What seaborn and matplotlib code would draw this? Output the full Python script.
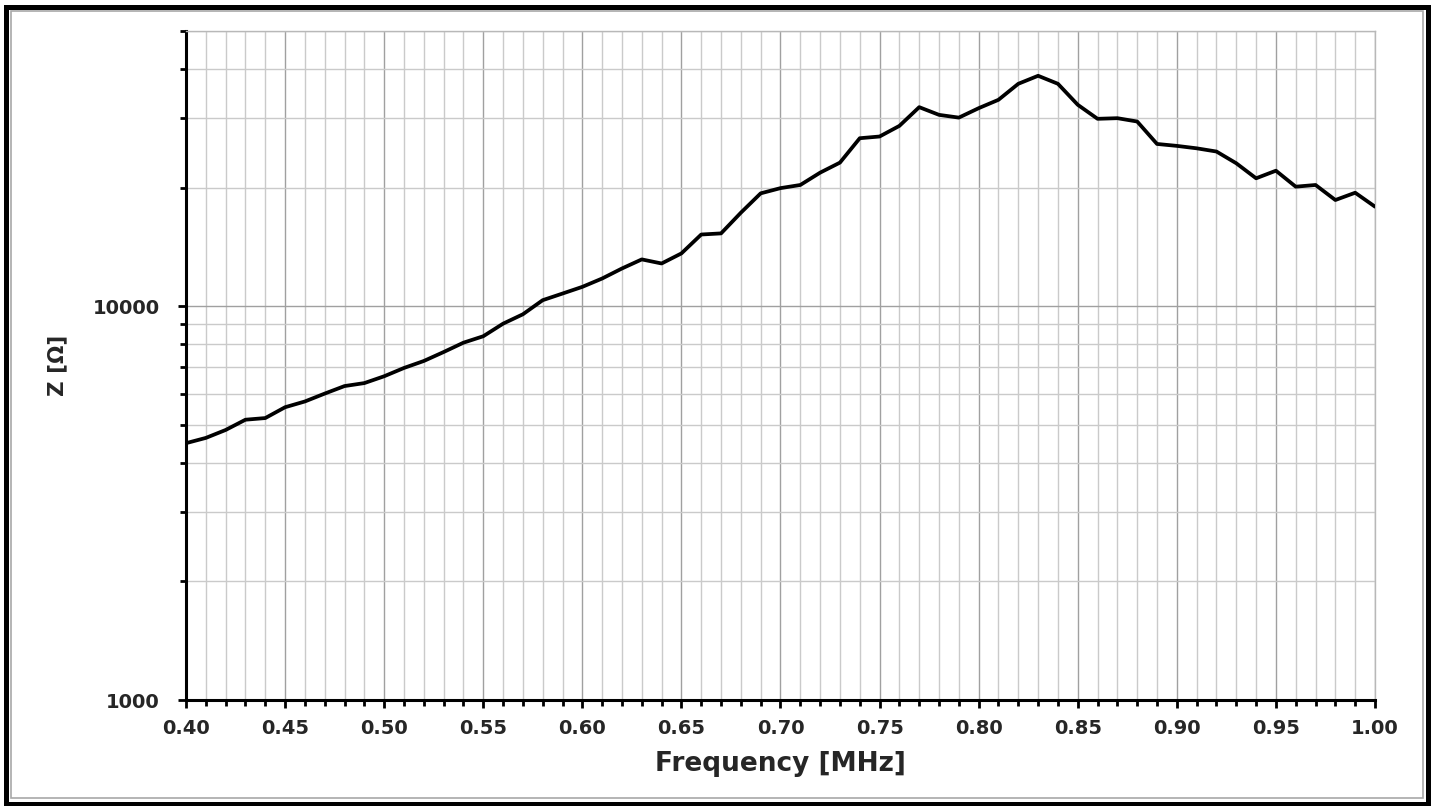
import matplotlib
matplotlib.use("Agg")
import matplotlib.pyplot as plt
import matplotlib.ticker as mticker
from matplotlib.patches import Rectangle
import seaborn as sns
import pandas as pd

freq_mhz = [0.40, 0.41, 0.42, 0.43, 0.44, 0.45, 0.46, 0.47, 0.48, 0.49,
            0.50, 0.51, 0.52, 0.53, 0.54, 0.55, 0.56, 0.57, 0.58, 0.59,
            0.60, 0.61, 0.62, 0.63, 0.64, 0.65, 0.66, 0.67, 0.68, 0.69,
            0.70, 0.71, 0.72, 0.73, 0.74, 0.75, 0.76, 0.77, 0.78, 0.79,
            0.80, 0.81, 0.82, 0.83, 0.84, 0.85, 0.86, 0.87, 0.88, 0.89,
            0.90, 0.91, 0.92, 0.93, 0.94, 0.95, 0.96, 0.97, 0.98, 0.99, 1.00]
impedance = [4490, 4630, 4850, 5150, 5200, 5540, 5730, 6000, 6270, 6380,
             6640, 6970, 7260, 7650, 8080, 8390, 9030, 9540, 10360, 10770,
             11200, 11760, 12470, 13150, 12840, 13620, 15210, 15310, 17280, 19350,
             19950, 20320, 21840, 23160, 26710, 26980, 28710, 32030, 30620, 30130,
             31840, 33440, 36720, 38480, 36720, 32480, 29920, 30030, 29450, 25830,
             25540, 25180, 24710, 23070, 21130, 22090, 20120, 20320, 18610, 19420, 17900]
y_tick_values = [1000, 10000]
y_tick_labels = ["1000", "10000"]
x_label = "Frequency [MHz]"
y_label = "Z [\u03a9]"

sns.set_style("white")
plt.rcParams['font.family'] = ['DejaVu Sans']

df = pd.DataFrame({"f": freq_mhz, "z": impedance})

W, H = 1434, 806
fig = plt.figure(figsize=(W / 100, H / 100), dpi=100)
ax = fig.add_axes([186 / W, 1 - 700 / H, (1375 - 186) / W, (700 - 31) / H])

sns.lineplot(data=df, x="f", y="z", ax=ax, color="black", linewidth=2.7, zorder=5)
for ln in ax.get_lines():
    ln.set_solid_joinstyle("round")
    ln.set_solid_capstyle("round")

ax.set_yscale("log")
ax.set_xlim(0.40, 1.00)
ax.set_ylim(1000, 50000)

ax.xaxis.set_major_locator(mticker.MultipleLocator(0.05))
ax.xaxis.set_minor_locator(mticker.MultipleLocator(0.01))
ax.xaxis.set_major_formatter(mticker.FormatStrFormatter("%.2f"))

ax.yaxis.set_major_locator(mticker.FixedLocator(y_tick_values))
ax.yaxis.set_major_formatter(mticker.FixedFormatter(y_tick_labels))
ax.yaxis.set_minor_locator(mticker.LogLocator(base=10, subs=[2, 3, 4, 5, 6, 7, 8, 9]))
ax.yaxis.set_minor_formatter(mticker.NullFormatter())

ax.grid(which="major", axis="both", color="#a0a0a0", linewidth=1.0)
ax.grid(which="minor", axis="both", color="#cacaca", linewidth=1.0)
ax.set_axisbelow(True)

for side in ["top", "right"]:
    ax.spines[side].set_color("#b8b8b8")
    ax.spines[side].set_linewidth(1.0)
for side in ["left", "bottom"]:
    ax.spines[side].set_color("black")
    ax.spines[side].set_linewidth(2.2)

ax.tick_params(which="major", direction="out", length=6, width=2, color="black",
               labelsize=14, bottom=True, left=True)
ax.tick_params(which="minor", direction="out", length=4.5, width=2, color="black",
               bottom=True, left=True)
ax.tick_params(axis="x", which="major", pad=8)
ax.tick_params(axis="y", which="major", pad=13)
for lab in ax.get_xticklabels() + ax.get_yticklabels():
    lab.set_fontweight("bold")

ax.set_xlabel(x_label, fontsize=19, fontweight="bold", labelpad=9)
ax.set_ylabel(y_label, fontsize=15.5, fontweight="bold", labelpad=18)

# figure frame
def fx(px):
    return px / W

def fy(py):
    return 1 - py / H

fig.patches.append(Rectangle((fx(6), fy(803.5)), fx(1427.5) - fx(6), fy(6.5) - fy(803.5),
                             transform=fig.transFigure, fill=False, ec="black", lw=3.6))
fig.patches.append(Rectangle((fx(10.5), fy(797.5)), fx(1422.5) - fx(10.5), fy(10.5) - fy(797.5),
                             transform=fig.transFigure, fill=False, ec="#a8a8a8", lw=1.2))

fig.savefig("out.png", dpi=100)
